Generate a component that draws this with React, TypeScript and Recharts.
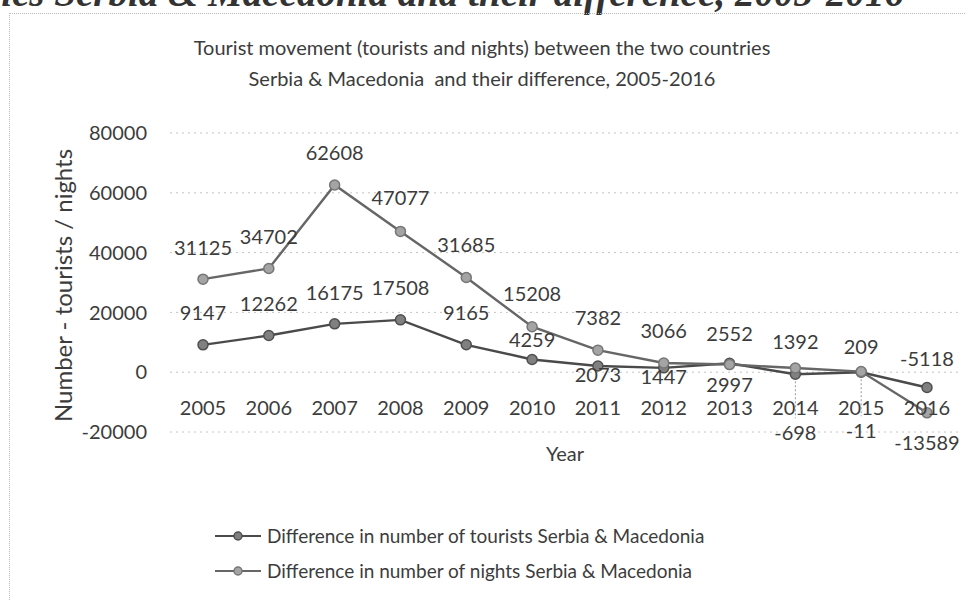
import {
  LineChart,
  Line,
  XAxis,
  YAxis,
  CartesianGrid,
  LabelList,
  Legend
} from 'recharts'

const years = ['2005', '2006', '2007', '2008', '2009', '2010', '2011', '2012', '2013', '2014', '2015', '2016']

const touristDiff = [9147, 12262, 16175, 17508, 9165, 4259, 2073, 1447, 2997, -698, -11, -5118]

const nightsDiff = [31125, 34702, 62608, 47077, 31685, 15208, 7382, 3066, 2552, 1392, 209, -13589]

const yTicks = [-20000, 0, 20000, 40000, 60000, 80000]

// where each point's label sits, relative to the point (px, +down)
const touristLabelShift = [-33, -33, -32, -33, -33, -20, 8, 8, 21, 58, 58, -30]
const nightsLabelShift = [-32, -32, -33, -34, -33, -34, -33, -33, -32, -27, -26, 29]

const legendOrder = ['tourists', 'nights']

const data = years.map((year, i) => ({
  year,
  tourists: touristDiff[i],
  nights: nightsDiff[i],
}))

const FONT = 'Lato, "Open Sans", sans-serif'
const TEXT = '#3c3c3c'

const seriesStyle: Record<string, { line: string; fill: string; stroke: string }> = {
  tourists: { line: '#4a4a4a', fill: '#808080', stroke: '#505050' },
  nights: { line: '#666666', fill: '#a4a4a4', stroke: '#767676' },
}

function pointLabel(shifts: number[]) {
  return (props: any) => {
    const { x, y, value, index } = props
    const dy = shifts[index]
    const leader = dy > 40
    return (
      <g>
        {leader && (
          <line
            x1={x}
            y1={y + 7}
            x2={x}
            y2={y + dy - 14}
            stroke="#999"
            strokeDasharray="2 2"
          />
        )}
        <text
          x={x}
          y={y + dy}
          textAnchor="middle"
          dominantBaseline="central"
          fontSize={20}
          fontFamily={FONT}
          fill={TEXT}
        >
          {value}
        </text>
      </g>
    )
  }
}

function YearTick(props: any) {
  const { x, y, payload } = props
  return (
    <text
      x={x}
      y={y - 27}
      textAnchor="middle"
      dominantBaseline="central"
      fontSize={20}
      fontFamily={FONT}
      fill={TEXT}
    >
      {payload.value}
    </text>
  )
}

function LegendRows(props: any) {
  const items = [...(props.payload || [])].sort(
    (a: any, b: any) => legendOrder.indexOf(a.dataKey) - legendOrder.indexOf(b.dataKey)
  )
  return (
    <div style={{ fontFamily: FONT, fontSize: 19, color: TEXT }}>
      {items.map((item: any) => {
        const s = seriesStyle[item.dataKey]
        return (
          <div
            key={item.dataKey}
            style={{ display: 'flex', alignItems: 'center', height: 35 }}
          >
            <svg width={46} height={14}>
              <line x1={0} y1={7} x2={46} y2={7} stroke={s.line} strokeWidth={2} />
              <circle cx={23} cy={7} r={4} fill={s.fill} stroke={s.stroke} strokeWidth={1.5} />
            </svg>
            <span style={{ marginLeft: 6 }}>{item.value}</span>
          </div>
        )
      })}
    </div>
  )
}

export default function App() {

  return (

    <div
      style={{
        position: 'absolute',
        left: 0,
        top: 0,
        width: 974,
        height: 601,
        overflow: 'hidden',
        background: '#fff',
        fontFamily: FONT,
      }}
    >

      <div
        style={{
          position: 'absolute',
          top: -30,
          left: -14,
          whiteSpace: 'nowrap',
          fontFamily: '"Liberation Serif", serif',
          fontStyle: 'italic',
          fontWeight: 'bold',
          fontSize: 39,
          color: '#333',
        }}
      >
        ries Serbia &amp; Macedonia and their difference, 2005-2016
      </div>

      <div
        style={{
          position: 'absolute',
          left: 9,
          top: 13,
          width: 955,
          height: 600,
          borderTop: '1px dotted #bbb',
          borderLeft: '1px dotted #bbb',
        }}
      />

      <div
        style={{
          position: 'absolute',
          top: 32,
          left: 0,
          width: 964,
          textAlign: 'center',
          fontSize: 20,
          lineHeight: '31px',
          color: TEXT,
        }}
      >
        Tourist movement (tourists and nights) between the two countries
        <br />
        Serbia &amp; Macedonia&nbsp; and their difference, 2005-2016
      </div>

      <LineChart
        width={974}
        height={601}
        data={data}
        margin={{ top: 133, right: 14, bottom: 139, left: 0 }}
      >

        <CartesianGrid vertical={false} stroke="#c4c4c4" strokeDasharray="2 4" />

        <XAxis
          dataKey="year"
          interval={0}
          padding={{ left: 33, right: 33 }}
          axisLine={false}
          tickLine={false}
          tickSize={0}
          height={30}
          tick={<YearTick />}
          label={{
            content: (p: any) => {
              const vb = p.viewBox
              return (
                <text
                  x={vb.x + vb.width / 2}
                  y={vb.y + 21}
                  textAnchor="middle"
                  dominantBaseline="central"
                  fontSize={20}
                  fontFamily={FONT}
                  fill={TEXT}
                >
                  Year
                </text>
              )
            },
          }}
        />

        <YAxis
          domain={[-20000, 80000]}
          ticks={yTicks}
          width={170}
          axisLine={false}
          tickLine={false}
          tickSize={0}
          tickMargin={23}
          tick={{ fontSize: 20, fill: TEXT, fontFamily: FONT }}
          label={{
            content: (p: any) => {
              const vb = p.viewBox
              const cx = vb.x + 62
              const cy = vb.y + vb.height / 2 + 3
              return (
                <text
                  x={cx}
                  y={cy}
                  transform={`rotate(-90, ${cx}, ${cy})`}
                  textAnchor="middle"
                  dominantBaseline="central"
                  fontSize={24}
                  fontFamily={FONT}
                  fill={TEXT}
                >
                  Number - tourists / nights
                </text>
              )
            },
          }}
        />

        <Legend
          layout="horizontal"
          verticalAlign="middle"
          align="center"
          content={<LegendRows />}
          wrapperStyle={{ top: 518, left: 215, width: 640, height: 70 }}
        />

        <Line
          type="linear"
          dataKey="tourists"
          name="Difference in number of tourists Serbia & Macedonia"
          stroke={seriesStyle.tourists.line}
          strokeWidth={2.4}
          dot={{ r: 5, fill: seriesStyle.tourists.fill, stroke: seriesStyle.tourists.stroke, strokeWidth: 1.5 }}
          isAnimationActive={false}
        >
          <LabelList dataKey="tourists" content={pointLabel(touristLabelShift)} />
        </Line>

        <Line
          type="linear"
          dataKey="nights"
          name="Difference in number of nights Serbia & Macedonia"
          stroke={seriesStyle.nights.line}
          strokeWidth={2.4}
          dot={{ r: 5, fill: seriesStyle.nights.fill, stroke: seriesStyle.nights.stroke, strokeWidth: 1.5 }}
          isAnimationActive={false}
        >
          <LabelList dataKey="nights" content={pointLabel(nightsLabelShift)} />
        </Line>

      </LineChart>

    </div>

  )
}
